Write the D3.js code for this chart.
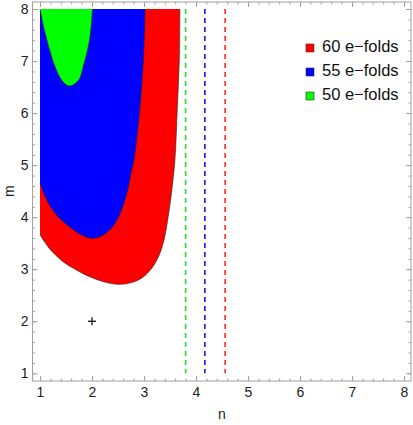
<!DOCTYPE html>
<meta charset="utf-8">
<script src="https://d3js.org/d3.v7.min.js"></script>
<style>
html, body { margin: 0; background: #fff; }
text { font-family: "Liberation Sans", Arial, sans-serif; }
</style>
<body>
<div id="chart"></div>
<script>

// boundary of each region (n, m)
var redN = [1, 1.179, 1.437, 1.692, 2.013, 2.398, 2.654, 2.91, 3.11, 3.27, 3.38, 3.456, 3.53, 3.596, 3.64, 3.68, 3.69];
var redM = [3.66, 3.40, 3.15, 2.99, 2.83, 2.72, 2.72, 2.80, 2.97, 3.22, 3.54, 3.95, 4.48, 5.12, 6.08, 7.04, 8.0];

var blueN = [1, 1.115, 1.244, 1.404, 1.563, 1.756, 2.013, 2.269, 2.462, 2.59, 2.687, 2.75, 2.81, 2.92, 2.99, 3.02];
var blueM = [4.65, 4.36, 4.14, 3.95, 3.82, 3.68, 3.59, 3.69, 3.91, 4.20, 4.52, 4.84, 5.12, 6.08, 7.04, 8.0];

var greenN = [1, 1.10, 1.29, 1.42, 1.56, 1.74, 1.83, 1.93, 1.97, 2.01];
var greenM = [8, 7.53, 6.89, 6.63, 6.52, 6.63, 6.89, 7.29, 7.53, 8];

// vertical dashed lines
var lineN = [3.8, 4.17, 4.56];
var lineColors = ["#33dd33", "#2222ee", "#ff3333"];

// marked point
var pointN = [2];
var pointM = [2];

var legendLabels = ["60 e\u2212folds", "55 e\u2212folds", "50 e\u2212folds"];
var legendColors = ["#ff0000", "#0000ff", "#00ff00"];

var majorTicks = [1, 2, 3, 4, 5, 6, 7, 8];

var W = 413, H = 425;
var frame = {left: 32.5, right: 411, top: 2, bottom: 381};

var x = d3.scaleLinear().domain([1, 8]).range([40, 404]);
var y = d3.scaleLinear().domain([1, 8]).range([373.3, 9]);

var minorTicks = d3.range(0.8, 8.3, 0.2).map(function(v) { return Math.round(v * 10) / 10; })
  .filter(function(v) { return v >= 0.86 && v <= 8.13; });

var svg = d3.select("#chart").append("svg")
  .attr("width", W)
  .attr("height", H);

function region(ns, ms) {
  return ns.map(function(n, i) { return [n, ms[i]]; });
}

var curve = d3.line()
  .x(function(d) { return x(d[0]); })
  .y(function(d) { return y(d[1]); })
  .curve(d3.curveCatmullRom.alpha(0.5));

var regions = [
  {pts: region(redN, redM), color: legendColors[0]},
  {pts: region(blueN, blueM), color: legendColors[1]},
  {pts: region(greenN, greenM), color: legendColors[2]}
];

regions.forEach(function(r) {
  var d = curve(r.pts);
  // close along the top edge and the n=1 edge
  var fillD = d + "L" + x(1) + "," + y(8) + "Z";
  svg.append("path")
    .attr("d", fillD)
    .attr("fill", r.color)
    .attr("stroke", "none");
  svg.append("path")
    .attr("d", d)
    .attr("fill", "none")
    .attr("stroke", "#222")
    .attr("stroke-width", 0.6);
});

// dashed lines
svg.selectAll(".vline")
  .data(lineN)
  .enter().append("line")
    .attr("class", "vline")
    .attr("x1", function(d) { return x(d); })
    .attr("x2", function(d) { return x(d); })
    .attr("y1", y(8))
    .attr("y2", y(1))
    .attr("stroke", function(d, i) { return lineColors[i]; })
    .attr("stroke-width", 1.7)
    .attr("stroke-dasharray", "5,4");

// + marker
pointN.forEach(function(d, i) {
  var cx = x(d), cy = y(pointM[i]);
  svg.append("line").attr("x1", cx - 4).attr("x2", cx + 4).attr("y1", cy).attr("y2", cy)
    .attr("stroke", "#000").attr("stroke-width", 1.2);
  svg.append("line").attr("x1", cx).attr("x2", cx).attr("y1", cy - 4).attr("y2", cy + 4)
    .attr("stroke", "#000").attr("stroke-width", 1.2);
});

// frame
svg.append("rect")
  .attr("x", frame.left)
  .attr("y", frame.top)
  .attr("width", frame.right - frame.left)
  .attr("height", frame.bottom - frame.top)
  .attr("fill", "none")
  .attr("stroke", "#a0a0a0")
  .attr("stroke-width", 1);

function styleAxis(g) {
  g.select(".domain").remove();
  g.selectAll(".tick line").attr("stroke", "#a0a0a0");
  g.selectAll("text").attr("fill", "#222").style("font-size", "14px")
    .style("font-family", "'Liberation Sans', Arial, sans-serif");
}

// bottom
svg.append("g").attr("transform", "translate(0," + frame.bottom + ")")
  .call(d3.axisBottom(x).tickValues(majorTicks).tickSize(-5).tickPadding(6).tickFormat(d3.format("d")))
  .call(styleAxis);
svg.append("g").attr("transform", "translate(0," + frame.bottom + ")")
  .call(d3.axisBottom(x).tickValues(minorTicks).tickSize(-2.5).tickFormat(""))
  .call(styleAxis);
// top
svg.append("g").attr("transform", "translate(0," + frame.top + ")")
  .call(d3.axisTop(x).tickValues(majorTicks).tickSize(-5).tickFormat(""))
  .call(styleAxis);
svg.append("g").attr("transform", "translate(0," + frame.top + ")")
  .call(d3.axisTop(x).tickValues(minorTicks).tickSize(-2.5).tickFormat(""))
  .call(styleAxis);
// left
svg.append("g").attr("transform", "translate(" + frame.left + ",0)")
  .call(d3.axisLeft(y).tickValues(majorTicks).tickSize(-5).tickPadding(4).tickFormat(d3.format("d")))
  .call(styleAxis);
svg.append("g").attr("transform", "translate(" + frame.left + ",0)")
  .call(d3.axisLeft(y).tickValues(minorTicks).tickSize(-2.5).tickFormat(""))
  .call(styleAxis);
// right
svg.append("g").attr("transform", "translate(" + frame.right + ",0)")
  .call(d3.axisRight(y).tickValues(majorTicks).tickSize(-5).tickFormat(""))
  .call(styleAxis);
svg.append("g").attr("transform", "translate(" + frame.right + ",0)")
  .call(d3.axisRight(y).tickValues(minorTicks).tickSize(-2.5).tickFormat(""))
  .call(styleAxis);

// axis titles
svg.append("text")
  .attr("x", (x(1) + x(8)) / 2)
  .attr("y", 419)
  .attr("text-anchor", "middle")
  .style("font-size", "14px")
  .attr("fill", "#222")
  .text("n");

svg.append("text")
  .attr("transform", "translate(13.5," + ((y(1) + y(8)) / 2) + ") rotate(-90)")
  .attr("text-anchor", "middle")
  .style("font-size", "14px")
  .attr("fill", "#222")
  .text("m");

// legend
var legend = svg.selectAll(".legend")
  .data(legendLabels)
  .enter().append("g")
    .attr("class", "legend")
    .attr("transform", function(d, i) { return "translate(306," + (52 + i * 24) + ")"; });

legend.append("rect")
  .attr("x", 0)
  .attr("y", -8)
  .attr("width", 8)
  .attr("height", 8)
  .attr("fill", function(d, i) { return legendColors[i]; })
  .attr("stroke", "#333")
  .attr("stroke-width", 0.6);

legend.append("text")
  .attr("x", 16)
  .attr("y", 0)
  .style("font-size", "16.5px")
  .attr("fill", "#111")
  .text(function(d) { return d; });

</script>
</body>
